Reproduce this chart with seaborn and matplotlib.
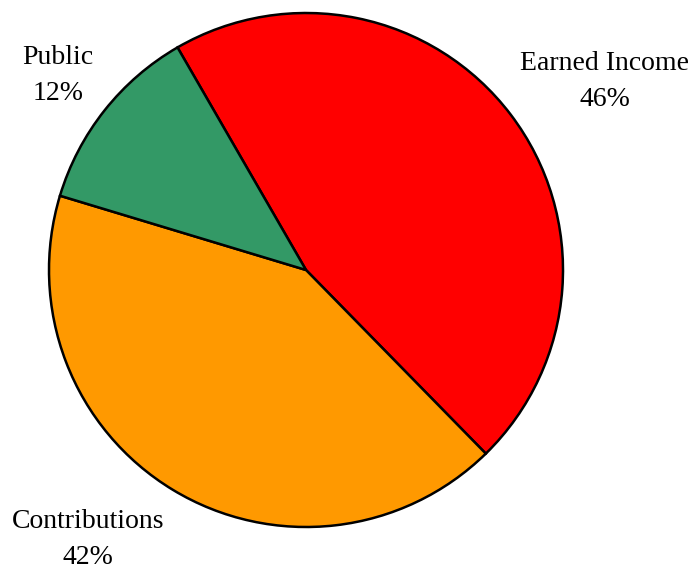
import matplotlib
matplotlib.use("Agg")
import matplotlib.pyplot as plt
import seaborn as sns

categories = ["Earned Income", "Contributions", "Public"]
shares = [46, 42, 12]
colors = ["#FF0000", "#FF9900", "#339966"]

sns.set_style("white")
plt.rcParams["font.family"] = ["Liberation Serif", "DejaVu Serif"]

fig = plt.figure(figsize=(6.96, 5.71), dpi=100)
ax = fig.add_axes([0, 0, 1, 1])

ax.pie(shares, colors=colors, startangle=120, counterclock=False,
       center=(306, 301), radius=257,
       wedgeprops=dict(edgecolor="black", linewidth=1.8))

# label positions in pixel coords (y up)
label_pos = [(605, 508, 471), (88, 49, 14), (58, 514, 478)]
for name, val, (x, y1, y2) in zip(categories, shares, label_pos):
    ax.text(x, y1, name, ha="center", va="center", fontsize=20, color="black")
    ax.text(x, y2, f"{val}%", ha="center", va="center", fontsize=20, color="black")

ax.set_xlim(0, 696)
ax.set_ylim(0, 571)
ax.set_aspect("equal")
ax.axis("off")

fig.savefig("out.png", dpi=100)
